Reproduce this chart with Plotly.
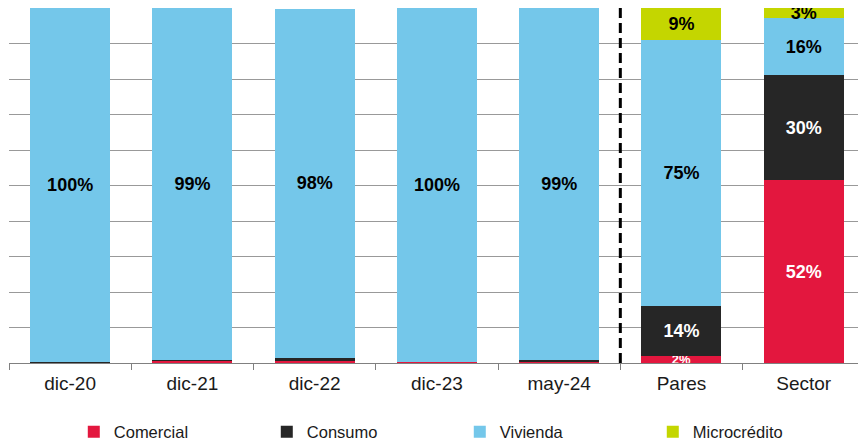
import plotly.graph_objects as go

# Loan portfolio composition by segment (share of total, %)
categories = ["dic-20", "dic-21", "dic-22", "dic-23", "may-24", "Pares", "Sector"]
comercial = [0.1, 0.6, 0.5, 0.3, 0.3, 2.0, 51.5]
consumo = [0.3, 0.2, 0.9, 0.1, 0.5, 14.0, 29.6]
vivienda = [99.6, 99.2, 98.4, 99.6, 99.2, 75.0, 16.1]
microcredito = [0.0, 0.0, 0.0, 0.0, 0.0, 9.0, 2.8]

series = [
    ("Comercial", comercial, "#E3173E", "white"),
    ("Consumo", consumo, "#262626", "white"),
    ("Vivienda", vivienda, "#74C7EA", "black"),
    ("Microcrédito", microcredito, "#C4D600", "black"),
]

FONT = "Arial, Liberation Sans, sans-serif"


def labels(values):
    return [f"{v:.0f}%" if v >= 1.5 else "" for v in values]


def label_sizes(values):
    return [13 if v < 2.5 else 18 for v in values]


fig = go.Figure()
for name, vals, color, tcolor in series:
    fig.add_trace(go.Bar(
        name=name,
        x=categories,
        y=vals,
        marker=dict(color=color, line=dict(width=0)),
        text=labels(vals),
        textposition="inside",
        insidetextanchor="middle",
        constraintext="none",
        textangle=0,
        textfont=dict(family=FONT, color=tcolor, size=label_sizes(vals), weight="bold"),
        cliponaxis=True,
        hoverinfo="skip",
    ))

# Separator between the entity history and the peer/sector benchmarks
fig.add_shape(type="line", xref="x", yref="paper", x0=4.5, x1=4.5, y0=0, y1=1,
              line=dict(color="black", width=3, dash="10px,5px"))

fig.update_layout(
    barmode="stack",
    bargap=0.346,
    width=858,
    height=445,
    margin=dict(l=9, r=0, t=8, b=82, autoexpand=False),
    paper_bgcolor="white",
    plot_bgcolor="white",
    font=dict(family=FONT, color="#1a1a1a"),
    showlegend=True,
    legend=dict(
        orientation="h",
        x=0.086, xanchor="left", xref="container",
        y=(445 - 432) / 445, yanchor="middle", yref="container",
        entrywidth=148, entrywidthmode="pixels",
        font=dict(size=16.5, family=FONT, color="#1a1a1a"),
        itemwidth=30,
        traceorder="normal",
    ),
    xaxis=dict(
        type="category",
        range=[-0.5, 6.444],
        showline=True, linecolor="#808080", linewidth=1,
        ticks="outside", tickson="boundaries", ticklen=6, tickcolor="#808080",
        tickfont=dict(size=19, family=FONT, color="#1a1a1a"),
        ticklabelstandoff=3,
        showgrid=False,
    ),
    yaxis=dict(
        range=[0, 100],
        dtick=10,
        showgrid=True, gridcolor="#999999", gridwidth=1,
        zeroline=False,
        showticklabels=False,
        showline=False,
    ),
)

fig.write_html("out.html")
